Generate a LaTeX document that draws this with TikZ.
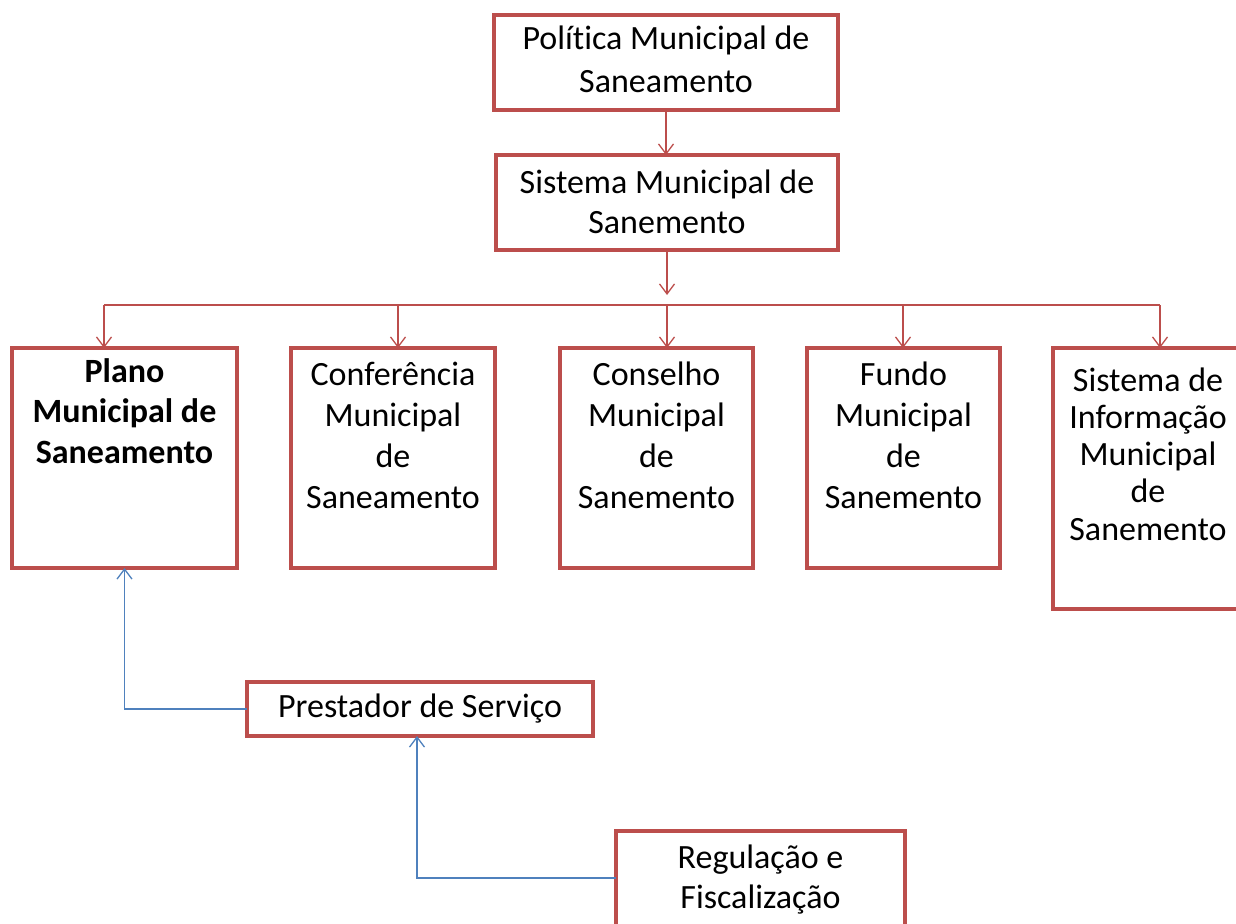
\documentclass[tikz,border=0pt]{standalone}
\usepackage{fontspec}
\setmainfont{Carlito}[Ligatures=NoCommon]
\usetikzlibrary{arrows.meta}
\definecolor{boxred}{RGB}{188,78,76}
\definecolor{lineblue}{RGB}{79,129,189}
\newcommand\btext[5]{\parbox[t][#1][t]{#2}{\centering\fontsize{34}{#4}\selectfont\rule{0pt}{#3}#5}}
\tikzset{
  box/.style={draw=boxred, line width=3.5pt, fill=white, inner sep=0pt, outer sep=0pt, anchor=north west},
  redarrow/.style={draw=boxred, line width=1.3pt, -{Straight Barb[length=10pt,width=15pt]}},
  redline/.style={draw=boxred, line width=1.3pt},
  bluearrow/.style={draw=lineblue, line width=1.3pt, -{Straight Barb[length=10pt,width=15pt]}}
}
\begin{document}
\begin{tikzpicture}[x=1pt,y=-1pt]
\useasboundingbox (0,0) rectangle (1236,923);
\node[box] (pol) at (494,15) {\btext{95pt}{344pt}{35pt}{43}{Política Municipal de\\Saneamento}};
\node[box] (sis) at (496,155) {\btext{95pt}{342pt}{38pt}{40}{Sistema Municipal de\\Sanemento}};
\node[box] (plano) at (12,348) {\btext{220pt}{225pt}{34pt}{40.5}{\bfseries Plano\\Municipal de\\Saneamento}};
\node[box] (conf) at (291,348) {\btext{220pt}{204pt}{37pt}{41}{Conferência\\Municipal\\de\\Saneamento}};
\node[box] (cons) at (560,348) {\btext{220pt}{193pt}{37pt}{41}{Conselho\\Municipal\\de\\Sanemento}};
\node[box] (fundo) at (807,348) {\btext{220pt}{193pt}{37pt}{41}{Fundo\\Municipal\\de\\Sanemento}};
\node[box] (info) at (1053,348) {\btext{261pt}{190pt}{43pt}{37.3}{Sistema de\\Informação\\Municipal\\de\\Sanemento}};
\node[box] (prest) at (247,682) {\btext{54pt}{346pt}{35pt}{40}{Prestador de Serviço}};
\node[box] (reg) at (616,831) {\btext{104pt}{289pt}{37pt}{40}{Regulação e\\Fiscalização}};
% top connectors
\draw[redarrow] (pol.south) -- (pol.south |- sis.north);
\coordinate (sisend) at (667,295);
\draw[redarrow] (sis.south -| sisend) -- (sisend);
% bus
\coordinate (b1) at (104,305);
\coordinate (b2) at (398,305);
\coordinate (b3) at (667,305);
\coordinate (b4) at (903,305);
\coordinate (b5) at (1160,305);
\draw[redline] (b1) -- (b5);
\draw[redarrow] (b1) -- (b1 |- plano.north);
\draw[redarrow] (b2) -- (b2 |- conf.north);
\draw[redarrow] (b3) -- (b3 |- cons.north);
\draw[redarrow] (b4) -- (b4 |- fundo.north);
\draw[redarrow] (b5) -- (b5 |- info.north);
% blue connectors
\coordinate (regin) at (616,878);
\coordinate (prestin) at (417,736);
\draw[bluearrow] (prest.west) -| (plano.south);
\draw[bluearrow] (regin) -| (prestin);
\end{tikzpicture}
\end{document}
